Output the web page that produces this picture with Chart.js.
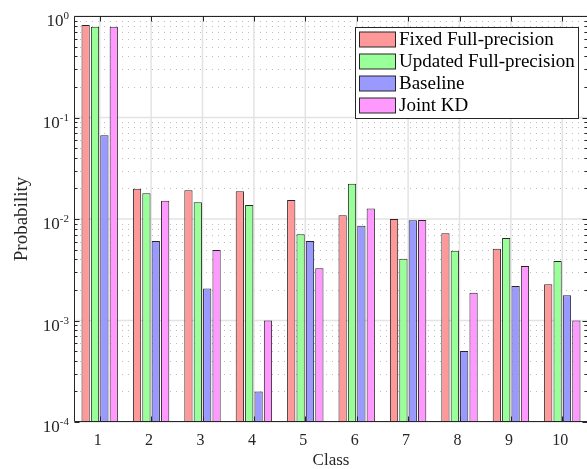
<!DOCTYPE html>
<html><head><meta charset="utf-8">
<style>
html,body{margin:0;padding:0;overflow:hidden;background:#fff;width:587px;height:469px}
#wrap{position:relative;width:592px;height:469px}
canvas{display:block}
</style>
<script src="https://cdn.jsdelivr.net/npm/chart.js@4/dist/chart.umd.min.js"></script>
</head><body><div id="wrap"><canvas id="c" width="592" height="469"></canvas></div>
<script>
const categories = ['1','2','3','4','5','6','7','8','9','10'];
const seriesNames = ['Fixed Full-precision','Updated Full-precision','Baseline','Joint KD'];
const fixedFull   = [0.815, 0.0199, 0.0192, 0.0188, 0.0154, 0.0109, 0.0100, 0.00723, 0.0051, 0.00227];
const updatedFull = [0.785, 0.0179, 0.0146, 0.0137, 0.00707, 0.0223, 0.00406, 0.00488, 0.0065, 0.00386];
const baseline    = [0.067, 0.00607, 0.00207, 0.0002, 0.00607, 0.0086, 0.0097, 0.0005, 0.00219, 0.00177];
const jointKD     = [0.785, 0.0151, 0.00495, 0.001, 0.00327, 0.0127, 0.0098, 0.00188, 0.00344, 0.001];
const yTickValues = [1e-4, 1e-3, 1e-2, 1e-1, 1];
const yTickExponents = ['-4','-3','-2','-1','0'];
const xTitle = 'Class';
const yTitle = 'Probability';

const faceColors = ['#ff9999','#99ff99','#9999ff','#ff99ff'];
const edgeColor = '#262626';
const FONT = '"Liberation Serif","Times New Roman",serif';

const axesPlugin = {
  id: 'matlabAxes',
  beforeDatasetsDraw(chart) {
    const ctx = chart.ctx, a = chart.chartArea;
    const xs = chart.scales.x, ys = chart.scales.y;
    ctx.save();
    // minor y grid (dotted)
    ctx.strokeStyle = '#bdbdbd'; ctx.lineWidth = 1; ctx.setLineDash([1,5]);
    for (let k = -4; k < 0; k++) {
      for (let m = 2; m <= 9; m++) {
        const y = Math.round(ys.getPixelForValue(m * Math.pow(10, k))) + 0.5;
        ctx.beginPath(); ctx.moveTo(a.left, y); ctx.lineTo(a.right, y); ctx.stroke();
      }
    }
    ctx.setLineDash([]);
    // major grid
    ctx.strokeStyle = '#e3e3e3'; ctx.lineWidth = 1.5;
    yTickValues.forEach(v => {
      const y = ys.getPixelForValue(v);
      ctx.beginPath(); ctx.moveTo(a.left, y); ctx.lineTo(a.right, y); ctx.stroke();
    });
    categories.forEach((c, i) => {
      const x = xs.getPixelForValue(i);
      ctx.beginPath(); ctx.moveTo(x, a.top); ctx.lineTo(x, a.bottom); ctx.stroke();
    });
    ctx.restore();
  },
  afterDatasetsDraw(chart) {
    const ctx = chart.ctx, a = chart.chartArea;
    const xs = chart.scales.x, ys = chart.scales.y;
    ctx.save();
    ctx.strokeStyle = edgeColor; ctx.lineWidth = 1;
    const L = Math.round(a.left) + 0.5, R = Math.round(a.right) - 0.5;
    const T = Math.round(a.top) + 0.5, B = Math.round(a.bottom) - 0.5;
    ctx.beginPath();
    ctx.moveTo(L, T); ctx.lineTo(R, T); ctx.lineTo(R, B); ctx.lineTo(L, B); ctx.closePath();
    ctx.stroke();
    // y ticks
    ctx.beginPath();
    for (let k = -4; k <= 0; k++) {
      for (let m = 1; m <= 9; m++) {
        const v = m * Math.pow(10, k);
        if (v > 1.0001) break;
        const y = Math.round(ys.getPixelForValue(v)) + 0.5;
        const len = m === 1 ? 5 : 3;
        ctx.moveTo(L, y); ctx.lineTo(L + len, y);
        ctx.moveTo(R, y); ctx.lineTo(R - len, y);
      }
    }
    // x ticks
    categories.forEach((c, i) => {
      const x = Math.round(xs.getPixelForValue(i)) + 0.5;
      ctx.moveTo(x, B); ctx.lineTo(x, B - 5);
      ctx.moveTo(x, T); ctx.lineTo(x, T + 5);
    });
    ctx.stroke();
    // x tick labels
    ctx.fillStyle = '#262626';
    ctx.font = '16px ' + FONT;
    ctx.textAlign = 'center'; ctx.textBaseline = 'middle';
    categories.forEach((c, i) => {
      ctx.fillText(c, xs.getPixelForValue(i) - 2, 441);
    });
    // x title
    ctx.font = '17px ' + FONT;
    ctx.fillText(xTitle, (a.left + Math.min(a.right, 588)) / 2, 461);
    // y tick labels with superscripts
    yTickValues.forEach((v, i) => {
      const y = ys.getPixelForValue(v);
      ctx.font = '11px ' + FONT;
      const ew = ctx.measureText(yTickExponents[i]).width;
      ctx.font = '17px ' + FONT;
      const bw = ctx.measureText('10').width;
      const right = 69;
      ctx.textAlign = 'left'; ctx.textBaseline = 'alphabetic';
      ctx.fillText('10', right - ew - bw, y + 10);
      ctx.font = '11px ' + FONT;
      ctx.fillText(yTickExponents[i], right - ew, y + 3);
    });
    // y title
    ctx.save();
    ctx.translate(22, (a.top + a.bottom) / 2);
    ctx.rotate(-Math.PI / 2);
    ctx.font = '19px ' + FONT;
    ctx.textAlign = 'center'; ctx.textBaseline = 'middle';
    ctx.fillText(yTitle, 0, 0);
    ctx.restore();
    // legend
    ctx.fillStyle = '#ffffff';
    ctx.fillRect(355.5, 27.5, 223, 91);
    ctx.strokeStyle = edgeColor;
    ctx.strokeRect(355.5, 27.5, 223, 91);
    const rows = [39.5, 61.5, 83.5, 105.5];
    chart.data.datasets.forEach((ds, i) => {
      const yc = rows[i];
      ctx.fillStyle = ds.backgroundColor;
      ctx.fillRect(359.5, yc - 7.5, 36, 15);
      ctx.strokeRect(359.5, yc - 7.5, 36, 15);
      ctx.fillStyle = '#000';
      ctx.font = '19px ' + FONT;
      ctx.textAlign = 'left'; ctx.textBaseline = 'middle';
      ctx.fillText(ds.label, 399, yc + 1);
    });
    ctx.restore();
  }
};

const seriesData = [fixedFull, updatedFull, baseline, jointKD];
new Chart(document.getElementById('c'), {
  type: 'bar',
  data: {
    labels: categories,
    datasets: seriesData.map((d, i) => ({
      label: seriesNames[i],
      data: d,
      backgroundColor: faceColors[i],
      borderColor: edgeColor,
      borderWidth: 1,
      borderSkipped: false,
      categoryPercentage: 0.73,
      barPercentage: 0.88
    }))
  },
  options: {
    responsive: false,
    animation: false,
    devicePixelRatio: 1,
    layout: { padding: { left: 74, top: 16, right: 4, bottom: 47 } },
    plugins: { legend: { display: false }, tooltip: { enabled: false } },
    scales: {
      x: { display: false, type: 'category', offset: true },
      y: { display: false, type: 'logarithmic', min: 1e-4, max: 1 }
    }
  },
  plugins: [axesPlugin]
});
</script>
</body></html>
